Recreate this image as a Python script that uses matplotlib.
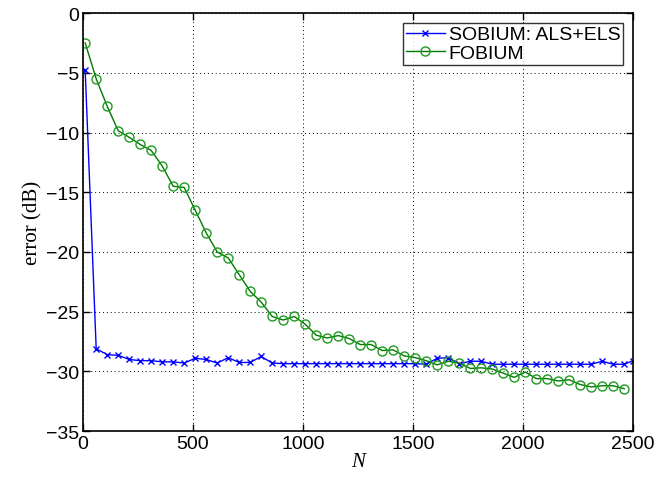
import matplotlib
matplotlib.use("Agg")
import matplotlib.pyplot as plt

n_fobium = [10, 60, 110, 160, 210, 260, 310, 360, 410, 460,
            510, 560, 610, 660, 710, 760, 810, 860, 910, 960,
            1010, 1060, 1110, 1160, 1210, 1260, 1310, 1360, 1410, 1460,
            1510, 1560, 1610, 1660, 1710, 1760, 1810, 1860, 1910, 1960,
            2010, 2060, 2110, 2160, 2210, 2260, 2310, 2360, 2410, 2460]
fobium = [-2.5, -5.5, -7.8, -9.85, -10.4, -11.0, -11.5, -12.8, -14.5, -14.6,
          -16.5, -18.4, -20.0, -20.5, -21.9, -23.3, -24.2, -25.4, -25.7, -25.4,
          -26.05, -26.97, -27.2, -27.0, -27.25, -27.75, -27.75, -28.25, -28.2, -28.7,
          -28.85, -29.1, -29.45, -29.15, -29.3, -29.75, -29.7, -29.8, -30.15, -30.5,
          -30.05, -30.6, -30.6, -30.8, -30.7, -31.1, -31.3, -31.2, -31.2, -31.45]

n_sobium = n_fobium + [2500]
sobium = [-4.8, -28.1, -28.6, -28.65, -29.0, -29.1, -29.1, -29.2, -29.2, -29.3,
          -28.9, -29.0, -29.3, -28.85, -29.25, -29.25, -28.75, -29.3, -29.35, -29.35,
          -29.35, -29.35, -29.35, -29.35, -29.35, -29.35, -29.35, -29.35, -29.35, -29.35,
          -29.35, -29.4, -28.9, -28.85, -29.35, -29.15, -29.15, -29.4, -29.4, -29.4,
          -29.4, -29.4, -29.4, -29.4, -29.4, -29.4, -29.4, -29.15, -29.4, -29.4,
          -29.1]

x_ticks = [0, 500, 1000, 1500, 2000, 2500]
y_ticks = [-35, -30, -25, -20, -15, -10, -5, 0]
labels = ["SOBIUM: ALS+ELS", "FOBIUM"]

plt.rcParams['font.family'] = ['Liberation Sans', 'DejaVu Sans']
fig = plt.figure(figsize=(6.56, 4.85), dpi=100)
ax = fig.add_axes([0.1265, 0.109, 0.8385, 0.862])

ax.plot(n_sobium, sobium, color='#0000ff', marker='x', markersize=5,
        markeredgewidth=1.0, linewidth=1.0, label=labels[0])
ax.plot(n_fobium, fobium, color='#007a00', marker='o', markersize=6.5,
        markerfacecolor='none', markeredgecolor='#1f9a1f', markeredgewidth=1.0,
        linewidth=1.0, label=labels[1])

ax.set_xlim(0, 2500)
ax.set_ylim(-35, 0)
ax.set_xticks(x_ticks)
ax.set_yticks(y_ticks)
ax.tick_params(direction='in', top=True, right=True, labelsize=14, length=5, width=1)
ax.tick_params(axis='y', pad=3)
ax.tick_params(axis='x', pad=3)
ax.grid(True, linestyle=(0, (1, 3)), color='black', linewidth=0.7)
for s in ax.spines.values():
    s.set_linewidth(1.2)

ax.set_xlabel("N", family=['Liberation Serif', 'DejaVu Serif'], style='italic', fontsize=15, labelpad=0)
ax.set_ylabel("error (dB)", family=['Liberation Serif', 'DejaVu Serif'], fontsize=15, labelpad=2)

leg = ax.legend(loc='upper right', fontsize=14, frameon=True, fancybox=False,
                edgecolor='black', handlelength=2.0, handletextpad=0.2,
                borderpad=0.15, labelspacing=0.05, borderaxespad=0.5)
leg.get_frame().set_linewidth(1.0)

fig.savefig("out.png", dpi=100)
